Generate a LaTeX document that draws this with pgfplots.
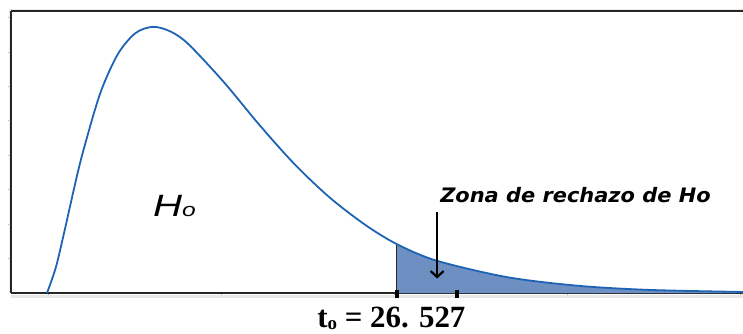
\documentclass[border=0pt]{standalone}
\usepackage{fontspec}
\setmainfont{Liberation Serif}
\newfontfamily\dejavu{DejaVu Sans}
\newfontfamily\arialf{Liberation Sans}
\usepackage{pgfplots}
\usepackage{pgfplotstable}
\pgfplotsset{compat=1.18}
\usetikzlibrary{arrows.meta}

\definecolor{curva}{HTML}{1E64B4}
\definecolor{zona}{HTML}{6E8FC2}

% densidad
\pgfplotstableread{
x y
-0.006 0.00
0.045 0.74
0.097 1.84
0.148 2.98
0.199 4.04
0.301 5.79
0.404 6.94
0.506 7.55
0.608 7.73
0.710 7.59
0.813 7.22
1.017 6.12
1.222 4.88
1.427 3.73
1.631 2.76
1.836 1.97
2.016 1.42
2.245 0.94
2.654 0.46
3.064 0.21
3.473 0.09
4.017 0.03
}\densidad

% cola (zona de rechazo)
\pgfplotstableread{
x y
2.016 1.42
2.245 0.94
2.654 0.46
3.064 0.21
3.473 0.09
4.017 0.03
}\cola

\begin{document}
\begin{tikzpicture}
\useasboundingbox (0,0) rectangle (743bp,334bp);
\begin{axis}[
    at={(11bp,41bp)}, anchor=south west,
    scale only axis, width=732bp, height=282bp,
    xmin=-0.214, xmax=4.017, ymin=0, ymax=8.19,
    axis x line=box, axis y line=left,
    every outer x axis line/.append style={-},
    every outer y axis line/.append style={-},
    axis line style={-, black!85, line width=1.4bp},
    xtick={0,1,2,3,4}, ytick={1,2,3,4,5,6,7,8},
    xticklabels={}, yticklabels={},
    xtick pos=bottom, ytick pos=left,
    tick align=outside, major tick length=3bp,
    tick style={gray!60, line width=0.8bp},
    clip=false,
]
\draw[gray!18, line width=3bp]
    ([yshift=-3bp]rel axis cs:0,0) -- ([yshift=-3bp]rel axis cs:1,0);
\draw[gray!18, line width=1.5bp]
    ([xshift=-1.5bp,yshift=1.5bp]rel axis cs:0,1) -- ([yshift=1.5bp]rel axis cs:1,1);
\draw[gray!18, line width=1.5bp]
    ([xshift=-1.5bp]rel axis cs:0,0) -- ([xshift=-1.5bp,yshift=1.5bp]rel axis cs:0,1);

\addplot[fill=zona, draw=none, smooth] table {\cola} \closedcycle;
\addplot[black!85, line width=1.3bp] coordinates {(2.016,0) (2.016,1.42)};
\addplot[curva, line width=1.8bp, smooth] table {\densidad};

% marcas gruesas sobre el eje
\fill[black] ([xshift=-2bp,yshift=2.5bp]axis cs:2.017,0) rectangle ([xshift=2bp,yshift=-4.5bp]axis cs:2.017,0);
\fill[black] ([xshift=-2bp,yshift=2.5bp]axis cs:2.364,0) rectangle ([xshift=2bp,yshift=-4.5bp]axis cs:2.364,0);

\node[anchor=base west, inner sep=0pt] at (axis cs:0.607,2.21)
    {\scalebox{1.3}[1]{\arialf\itshape\fontsize{31}{31}\selectfont H\fontsize{19}{19}\selectfont o}};
\node[anchor=base west, inner sep=0pt] at (axis cs:2.266,2.64)
    {\scalebox{1.05}[1]{\dejavu\bfseries\itshape\fontsize{20}{20}\selectfont Zona de rechazo de Ho}};
\draw[-{Straight Barb[length=6bp,width=13bp,line width=2.2bp]}, black, line width=2.2bp]
    (axis cs:2.249,2.35) -- (axis cs:2.249,0.42);
\node[anchor=base west, inner sep=0pt] at (axis cs:1.556,-1.01)
    {\bfseries\fontsize{31}{31}\selectfont t\raisebox{-2bp}{\fontsize{19}{19}\selectfont o} = 26. 527};
\end{axis}
\end{tikzpicture}
\end{document}
